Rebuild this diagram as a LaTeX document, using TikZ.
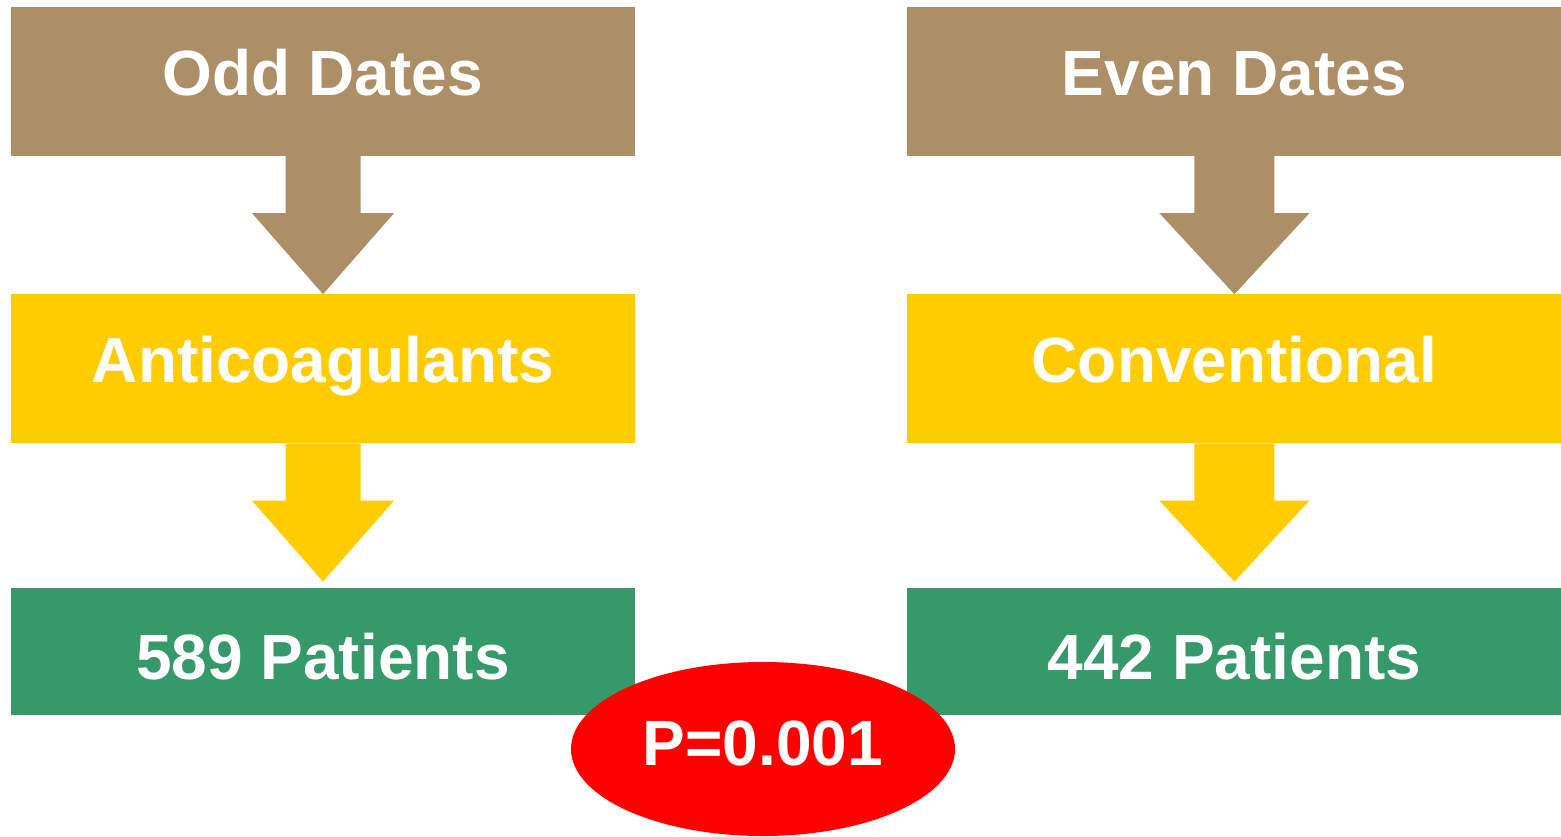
\documentclass[tikz,border=0pt]{standalone}
\usepackage{fontspec}
\setmainfont{Liberation Sans}
\usetikzlibrary{positioning,shapes.geometric,calc}

\definecolor{datebrown}{HTML}{AD8F67}
\definecolor{armyellow}{HTML}{FFCC00}
\definecolor{countgreen}{HTML}{35996A}
\definecolor{pvalred}{HTML}{FF0000}

% block arrow: colour, from node, tip, half shaft width, half head width
\newcommand{\blockarrow}[5]{%
  \fill[#1] ($(#2.south)+(-#4,0)$) -- ++(0,57) -- ++(#4-#5,0) -- (#3)
    -- ($(#2.south)+(#5,57)$) -- ++(-#5+#4,0) -- ($(#2.south)+(#4,0)$) -- cycle;}

\begin{document}
\begin{tikzpicture}[x=1pt,y=-1pt,
    box/.style={inner sep=0pt, text=white,
      font=\bfseries\fontsize{64}{70}\selectfont,
      text height=46pt, text depth=19pt},
    datebox/.style={box, fill=datebrown, minimum height=149pt},
    armbox/.style={box, fill=armyellow, minimum height=149pt},
    countbox/.style={box, fill=countgreen, minimum height=127pt,
      text height=56pt, text depth=0pt}]
  \useasboundingbox (0,0) rectangle (1561,836);

  % left arm
  \node[datebox, minimum width=624pt] (odd) at (323,81.5) {Odd Dates};
  \node[armbox, minimum width=624pt, below=138pt of odd] (anti) {Anticoagulants};
  \node[countbox, minimum width=624pt, below=144pt of anti] (pat1) {589 Patients};

  % right arm
  \node[datebox, minimum width=654pt, right=272pt of odd] (even) {Even Dates};
  \node[armbox, minimum width=654pt, below=138pt of even] (conv) {Conventional};
  \node[countbox, minimum width=654pt, below=144pt of conv] (pat2) {442 Patients};

  \blockarrow{datebrown}{odd}{anti.north}{37.5}{71}
  \blockarrow{armyellow}{anti}{$(pat1.north)+(0,-6)$}{37.5}{71}
  \blockarrow{datebrown}{even}{conv.north}{40}{75}
  \blockarrow{armyellow}{conv}{$(pat2.north)+(0,-6)$}{40}{75}

  \node[ellipse, fill=pvalred, inner sep=0pt, minimum width=384pt,
    minimum height=174pt, text=white, font=\bfseries\fontsize{64}{70}\selectfont,
    text depth=11pt] (pval) at (763,749) {P=0.001};
\end{tikzpicture}
\end{document}
